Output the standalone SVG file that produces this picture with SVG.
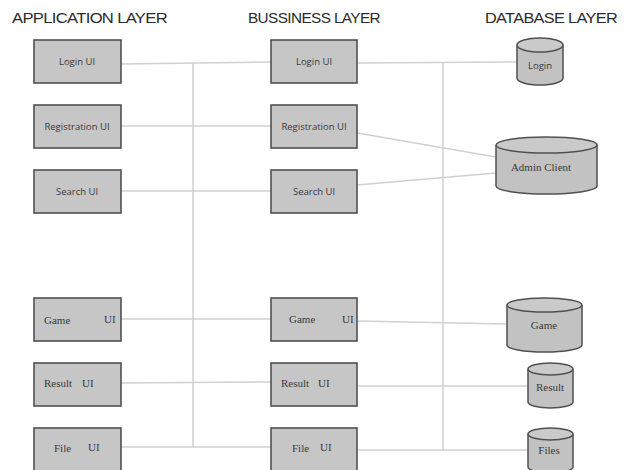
<svg xmlns="http://www.w3.org/2000/svg" width="629" height="470" viewBox="0 0 629 470">
<style>
.hdr{font-family:"Liberation Sans",Arial,sans-serif;font-size:15px;fill:#2a2a2a;letter-spacing:-0.6px}
.box{fill:#c6c6c6;stroke:#505050;stroke-width:1.6}
.shd{fill:#e2e2e2}
.cyl{fill:#c2c2c2;stroke:#505050;stroke-width:1.5}
.cylt{fill:#cacaca;stroke:#505050;stroke-width:1.5}
.ts{font-family:"Open Sans","DejaVu Sans",sans-serif;font-size:9.5px;fill:#3a3a3a;text-anchor:middle}
.tr{font-family:"Liberation Serif","DejaVu Serif",serif;font-size:11px;fill:#3a3a3a}
.con line{stroke:#d0d0d0;stroke-width:1.5}
</style>
<rect width="629" height="470" fill="#ffffff"/>
<g id="headers">
<text class="hdr" x="12" y="23" textLength="155" lengthAdjust="spacingAndGlyphs">APPLICATION LAYER</text>
<text class="hdr" x="248" y="23" textLength="132" lengthAdjust="spacingAndGlyphs">BUSSINESS LAYER</text>
<text class="hdr" x="485" y="23" textLength="132" lengthAdjust="spacingAndGlyphs">DATABASE LAYER</text>
</g>
<g id="connectors" class="con">
<line x1="121" y1="64" x2="271" y2="62"/>
<line x1="193" y1="63" x2="193" y2="447"/>
<line x1="121" y1="126" x2="271" y2="126"/>
<line x1="121" y1="191" x2="271" y2="191"/>
<line x1="121" y1="319" x2="271" y2="319"/>
<line x1="121" y1="383" x2="271" y2="382"/>
<line x1="121" y1="447" x2="271" y2="447"/>
<line x1="357" y1="63" x2="517" y2="62"/>
<line x1="443" y1="63" x2="443" y2="451"/>
<line x1="357" y1="133" x2="496" y2="157"/>
<line x1="357" y1="185" x2="496" y2="173"/>
<line x1="357" y1="321" x2="507" y2="324"/>
<line x1="357" y1="386" x2="528" y2="386"/>
<line x1="357" y1="450" x2="528" y2="450"/>
</g>
<g id="app-login"><rect class="box" x="34" y="40" width="87" height="43"/><text class="ts" x="77" y="65">Login UI</text></g>
<g id="app-registration"><rect class="box" x="34" y="105" width="87" height="43"/><text class="ts" x="77" y="130">Registration UI</text></g>
<g id="app-search"><rect class="box" x="34" y="170" width="87" height="43"/><text class="ts" x="77" y="195">Search UI</text></g>
<g id="app-game"><rect class="box" x="34" y="298" width="87" height="43"/><text class="tr" x="44" y="324">Game</text><text class="tr" x="104" y="323">UI</text></g>
<g id="app-result"><rect class="box" x="34" y="363" width="87" height="43"/><text class="tr" x="44" y="387">Result</text><text class="tr" x="82" y="387">UI</text></g>
<g id="app-file"><rect class="box" x="34" y="428" width="87" height="43"/><text class="tr" x="54" y="452">File</text><text class="tr" x="88" y="451">UI</text></g>
<g id="bus-login"><rect class="box" x="271" y="40" width="86" height="43"/><text class="ts" x="314" y="65">Login UI</text></g>
<g id="bus-registration"><rect class="box" x="271" y="105" width="86" height="43"/><text class="ts" x="314" y="130">Registration UI</text></g>
<g id="bus-search"><rect class="box" x="271" y="170" width="86" height="43"/><text class="ts" x="314" y="195">Search UI</text></g>
<g id="bus-game"><rect class="box" x="271" y="298" width="86" height="43"/><text class="tr" x="289" y="323">Game</text><text class="tr" x="342" y="323">UI</text></g>
<g id="bus-result"><rect class="box" x="271" y="363" width="86" height="43"/><text class="tr" x="281" y="387">Result</text><text class="tr" x="318" y="387">UI</text></g>
<g id="bus-file"><rect class="box" x="271" y="428" width="86" height="43"/><text class="tr" x="292" y="452">File</text><text class="tr" x="320" y="451">UI</text></g>
<g id="db-login">
<path class="cyl" d="M517,45 V78 A23,7 0 0 0 563,78 V45"/>
<ellipse class="cylt" cx="540" cy="45" rx="23" ry="7"/>
<text class="ts" x="540" y="69">Login</text>
</g>
<g id="db-admin">
<path class="cyl" d="M496,145 V186 A50.5,8 0 0 0 597,186 V145"/>
<ellipse class="cylt" cx="546.5" cy="145" rx="50.5" ry="8"/>
<text class="tr" x="541" y="171" text-anchor="middle">Admin Client</text>
</g>
<g id="db-game">
<path class="cyl" d="M507,305 V345 A37.5,7 0 0 0 582,345 V305"/>
<ellipse class="cylt" cx="544.5" cy="305" rx="37.5" ry="7"/>
<text class="tr" x="544" y="329" text-anchor="middle">Game</text>
</g>
<g id="db-result">
<path class="cyl" d="M528,369 V402 A22.5,6 0 0 0 573,402 V369"/>
<ellipse class="cylt" cx="550.5" cy="369" rx="22.5" ry="6"/>
<text class="tr" x="550" y="391" text-anchor="middle">Result</text>
</g>
<g id="db-files">
<path class="cyl" d="M528,434 V467 A22.5,6 0 0 0 573,467 V434"/>
<ellipse class="cylt" cx="550.5" cy="434" rx="22.5" ry="6"/>
<text class="tr" x="549" y="454" text-anchor="middle">Files</text>
</g>
</svg>
